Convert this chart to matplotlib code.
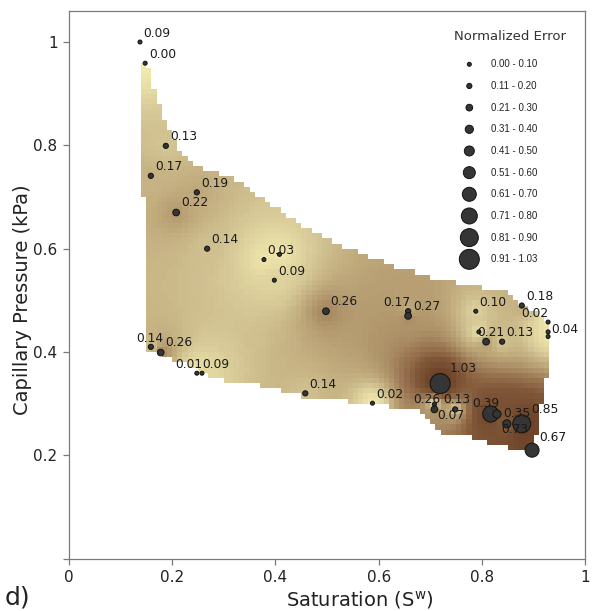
import numpy as np
import matplotlib
matplotlib.use("Agg")
import matplotlib.pyplot as plt
from matplotlib.path import Path
from matplotlib.colors import LinearSegmentedColormap, Normalize

# Test points: water saturation, capillary pressure (kPa) and normalized error
sat = [0.138, 0.148, 0.188, 0.159, 0.248, 0.208, 0.268, 0.378, 0.408, 0.398,
       0.498, 0.657, 0.657, 0.788, 0.877, 0.928, 0.928, 0.928, 0.794, 0.808,
       0.839, 0.159, 0.178, 0.248, 0.258, 0.458, 0.588, 0.719, 0.708, 0.708,
       0.748, 0.817, 0.829, 0.848, 0.877, 0.897]
pc = [1.000, 0.959, 0.799, 0.741, 0.709, 0.670, 0.600, 0.579, 0.589, 0.539,
      0.479, 0.479, 0.470, 0.479, 0.490, 0.458, 0.439, 0.430, 0.439, 0.420,
      0.420, 0.410, 0.399, 0.359, 0.359, 0.320, 0.301, 0.339, 0.299, 0.289,
      0.289, 0.280, 0.280, 0.261, 0.261, 0.210]
err = [0.09, 0.00, 0.13, 0.17, 0.19, 0.22, 0.14, 0.03, 0.03, 0.09,
       0.26, 0.17, 0.27, 0.10, 0.18, 0.02, 0.04, 0.04, 0.06, 0.21,
       0.13, 0.14, 0.26, 0.01, 0.09, 0.14, 0.02, 1.03, 0.07, 0.26,
       0.13, 0.73, 0.39, 0.35, 0.85, 0.67]
# points whose value is written next to them
show_label = [True] * 36
for i in (8, 17, 18):
    show_label[i] = False

# outline of the sampled Sw-Pc domain used for the error surface
domain_sat = [0.143, 0.154, 0.165, 0.180, 0.200, 0.225, 0.260, 0.330, 0.370,
              0.420, 0.475, 0.550, 0.635, 0.720, 0.800, 0.850, 0.875, 0.926,
              0.927, 0.916, 0.906, 0.900, 0.855, 0.810, 0.780, 0.720, 0.680,
              0.674, 0.564, 0.461, 0.383, 0.293, 0.202, 0.158, 0.153, 0.153,
              0.143]
domain_pc = [0.957, 0.957, 0.915, 0.860, 0.815, 0.780, 0.752, 0.733, 0.700,
             0.665, 0.630, 0.598, 0.565, 0.540, 0.525, 0.515, 0.495, 0.463,
             0.360, 0.300, 0.250, 0.205, 0.214, 0.226, 0.236, 0.243, 0.281,
             0.288, 0.302, 0.313, 0.333, 0.346, 0.385, 0.404, 0.404, 0.700,
             0.700]

bin_labels = ['0.00 - 0.10', '0.11 - 0.20', '0.21 - 0.30', '0.31 - 0.40',
              '0.41 - 0.50', '0.51 - 0.60', '0.61 - 0.70', '0.71 - 0.80',
              '0.81 - 0.90', '0.91 - 1.03']

# marker diameter (pixels) for each error class
marker_px = [4, 5.2, 6.7, 8.2, 10, 12, 14, 16, 18, 20]

# hand nudged label offsets (pixels) where labels would collide
label_nudge = {11: (-25, 5.7), 15: (-26.6, 5.3), 16: (2.7, -1), 19: (-8.7, 5.7),
               21: (-15, 5), 23: (-21.7, 5.3), 24: (0.7, 5.3), 28: (3, -14.7),
               29: (-21.6, 6.6), 30: (-12.3, 6.6), 31: (10, -19.3),
               32: (-25, 7.3), 33: (-4, 7.3)}

sat = np.array(sat)
pc = np.array(pc)
err = np.array(err)

def err_class(v):
    k = np.ceil(np.round(v, 2) * 10 - 1e-6).astype(int)
    return np.clip(k, 1, 10) - 1

def size_pts2(d_px):
    return (np.asarray(d_px) * 0.72) ** 2

fig = plt.figure(figsize=(6.11, 6.11), dpi=100)
ax = fig.add_axes([68.7 / 611, 1 - 558.7 / 611, 516.6 / 611, 548 / 611])
ax.set_xlim(0, 1)
ax.set_ylim(0, 1.0606)

# Interpolated error surface (inverse distance) on a coarse grid
cell = 0.01
xe = np.arange(0.0, 1.0 + cell / 2, cell)
ye = np.arange(0.0, 1.06 + cell / 2, cell)
XC, YC = np.meshgrid(xe[:-1] + cell / 2, ye[:-1] + cell / 2)
d2 = (XC[..., None] - sat) ** 2 + (YC[..., None] - pc) ** 2
w = 1.0 / d2
field = (w * err).sum(-1) / w.sum(-1)

outline = Path(np.column_stack([domain_sat, domain_pc]))
inside = outline.contains_points(np.column_stack([XC.ravel(), YC.ravel()]))
field = np.ma.masked_where(~inside.reshape(XC.shape), field)

sand = LinearSegmentedColormap.from_list('sand', [
    (0.0, '#f2ecb2'), (0.06, '#e6dca4'), (0.12, '#d6c897'), (0.2, '#bba477'),
    (0.3, '#997552'), (0.4, '#805738'), (0.6, '#70462b'), (1.0, '#643b23')])
ax.pcolormesh(xe, ye, field, cmap=sand, norm=Normalize(0, 1), shading='flat',
              antialiased=False, edgecolors='none', zorder=1)

# data points
cls = err_class(err)
dia = np.array(marker_px)[cls]
ax.scatter(sat, pc, s=size_pts2(dia), c='#353535', edgecolors='#111111',
           linewidths=0.7, zorder=3)

for i in range(len(err)):
    if not show_label[i]:
        continue
    r = dia[i] / 2
    dx, dy = label_nudge.get(i, (0.8 * r + 2, 0.85 * r + 3.5))
    ax.annotate(f'{err[i]:.2f}', (sat[i], pc[i]), xytext=(dx, dy),
                textcoords='offset pixels', ha='left', va='baseline',
                fontsize=8.8, color='#1a1a1a', zorder=4)

# legend, drawn in axes coordinates
ax.text(0.854, 0.9526, 'Normalized Error', transform=ax.transAxes,
        ha='center', va='center', fontsize=9.5, color='#333333')
leg_y = 0.9022 - 0.03954 * np.arange(len(bin_labels))
ax.scatter(np.full(len(bin_labels), 0.7755), leg_y, s=size_pts2(marker_px),
           c='#353535', edgecolors='#111111', linewidths=0.7,
           transform=ax.transAxes, zorder=3, clip_on=False)
for y, lab in zip(leg_y, bin_labels):
    ax.text(0.817, y, lab, transform=ax.transAxes, ha='left', va='center',
            fontsize=7, family='Liberation Sans', color='#222222')

# axes styling
for s in ax.spines.values():
    s.set_color('#7a7a7a')
    s.set_linewidth(0.9)
ax.set_xticks([0, 0.2, 0.4, 0.6, 0.8, 1])
ax.set_xticklabels(['0', '0.2', '0.4', '0.6', '0.8', '1'])
ax.set_yticks([0, 0.2, 0.4, 0.6, 0.8, 1])
ax.set_yticklabels(['', '0.2', '0.4', '0.6', '0.8', '1'])
ax.tick_params(direction='out', length=4, width=0.9, color='#7a7a7a',
               labelsize=11, labelcolor='#222222', pad=4)

ax.set_xlabel('Saturation (S$^{\\mathrm{w}}$)', fontsize=14, color='#222222')
ax.xaxis.set_label_coords(0.564, -0.055)
ax.set_ylabel('Capillary Pressure (kPa)', fontsize=14, color='#222222')
ax.yaxis.set_label_coords(-0.071, 0.472)

fig.text(5 / 611, 1 / 611, 'd)', fontsize=18, va='bottom', ha='left',
         color='#222222')

fig.savefig('out.png', dpi=100)
